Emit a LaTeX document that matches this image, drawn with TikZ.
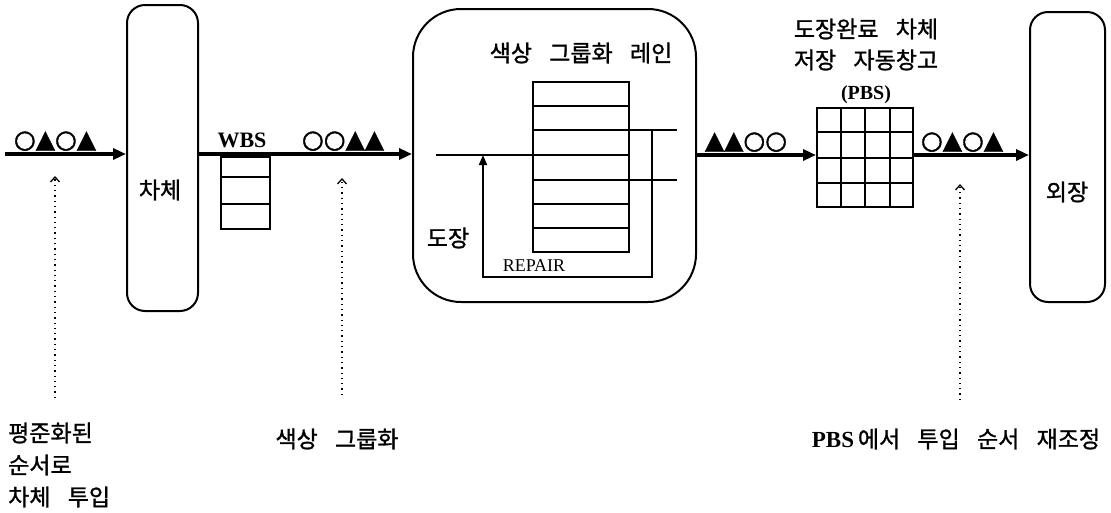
\documentclass[tikz,border=0pt]{standalone}
\usepackage{fontspec}
\setmainfont{Liberation Serif}
\newfontfamily\kr[FakeBold=1.2]{Noto Sans CJK KR}
\newfontfamily\sym[FakeBold=1.5]{DejaVu Sans}
\usetikzlibrary{arrows.meta,calc}
\newcommand\ksp{\hspace{0.75em}}
\begin{document}
\begin{tikzpicture}[x=1pt,y=-1pt,
  box/.style={draw, line width=2pt, rounded corners=18pt, inner sep=0pt},
  cell/.style={draw, line width=2pt, inner sep=0pt},
  flow/.style={line width=3.2pt, -{Triangle[length=13pt,width=11pt]}},
  thinl/.style={line width=1.8pt},
  hint/.style={line width=1.3pt, dash pattern=on 1.3pt off 4pt, -{Straight Barb[length=5pt,width=9pt,line width=1.3pt]}},
  kt/.style={font=\kr\fontsize{23}{32}\selectfont, inner sep=0pt},
  sy/.style={font=\sym\fontsize{25}{28}\selectfont, inner sep=0pt, anchor=south},
  lt/.style={font=\bfseries\fontsize{22}{26}\selectfont, inner sep=0pt}
]
\useasboundingbox (0,0) rectangle (1111,512);

% main boxes
\node[box, minimum width=71pt, minimum height=306pt] (body) at (162.5,158) {};
\node[kt] (bodyt) at (160,190) {차체};
\node[box, rounded corners=48pt, minimum width=283pt, minimum height=293pt] (lane) at (554.5,155.5) {};
\node[box, minimum width=75pt, minimum height=290pt] (outb) at (1067.5,157) {};
\node[kt] (outt) at (1067,192) {외장};

% WBS buffer
\node[cell, minimum width=49pt, minimum height=72pt] (wbs) at (245.5,193) {};
\draw[line width=2pt] (221,177) -- (270,177) (221,204) -- (270,204);
\node[lt] (wbst) at (242,140) {WBS};

% colour grouping lane stack
\node[cell, minimum width=96pt, minimum height=170pt] (stack) at (581,167) {};
\foreach \yy in {106,130,155,180,204,228} {\draw[line width=1.8pt] (533,\yy) -- (629,\yy);}

% PBS grid
\node[cell, minimum width=96pt, minimum height=99pt] (pbs) at (865,157.5) {};
\foreach \i in {1,2,3} {
  \draw[line width=2pt] ($(pbs.north west)!\i/4!(pbs.north east)$) -- ($(pbs.south west)!\i/4!(pbs.south east)$);
  \draw[line width=2pt] ($(pbs.north west)!\i/4!(pbs.south west)$) -- ($(pbs.north east)!\i/4!(pbs.south east)$);
}

% main flow
\coordinate (s0) at (5,154);
\coordinate (s1) at (0,155);
\draw[flow] (s0) -- (s0 -| body.west);
\draw[flow] (body.east |- s0) -- (lane.west |- s0);
\draw[flow] (lane.east |- s1) -- (pbs.west |- s1);
\draw[flow] (pbs.east |- s1) -- (outb.west |- s1);

% lane inner lines
\coordinate (ml) at (436,155);
\draw[thinl] (ml) -- (ml -| stack.west);
\coordinate (r1) at (677,130);
\coordinate (r2) at (677,180);
\draw[thinl] (stack.east |- r1) -- (r1);
\draw[thinl] (stack.east |- r2) -- (r2);
\coordinate (rv) at (652,130);
\coordinate (rb) at (652,277);
\coordinate (rl) at (483,277);
\draw[thinl, -{Triangle[length=10pt,width=8pt]}] (rv) -- (rb) -- (rl) -- (rl |- ml);

% symbols
\node[sy] (q1) at (55,151) {○▲○▲};
\node[sy] (q2) at (343,151) {○○▲▲};
\node[sy] (q3) at (746,152) {▲▲○○};
\node[sy] (q4) at (962,152) {○▲○▲};

% labels
\node[kt] (lanet) at (581,53) {색상\ksp 그룹화\ksp 레인};
\node[kt] (paint) at (448,238) {도장};
\node[font=\fontsize{18}{20}\selectfont, inner sep=0pt] (rep) at (534,266) {REPAIR};
\node[kt] (pbs1) at (866,29) {도장완료\ksp 차체};
\node[kt] (pbs2) at (866,60) {저장\ksp 자동창고};
\node[font=\bfseries\fontsize{20}{24}\selectfont, inner sep=0pt] (pbs3) at (866,95) {(PBS)};

% bottom notes
\node[kt, align=left, anchor=west] (n1) at (8,465) {평준화된\\순서로\\차체\ksp 투입};
\node[kt] (n2) at (337,439) {색상\ksp 그룹화};
\node[kt] (n3) at (956,439) {{\rmfamily\bfseries PBS}\,에서\ksp 투입\ksp 순서\ksp 재조정};

% dotted hints
\coordinate (h1b) at (55,398); \coordinate (h1t) at (55,176);
\coordinate (h2b) at (342,395); \coordinate (h2t) at (342,178);
\coordinate (h3b) at (960,400); \coordinate (h3t) at (960,184);
\draw[hint] (h1b) -- (h1t);
\draw[hint] (h2b) -- (h2t);
\draw[hint] (h3b) -- (h3t);
\end{tikzpicture}
\end{document}
